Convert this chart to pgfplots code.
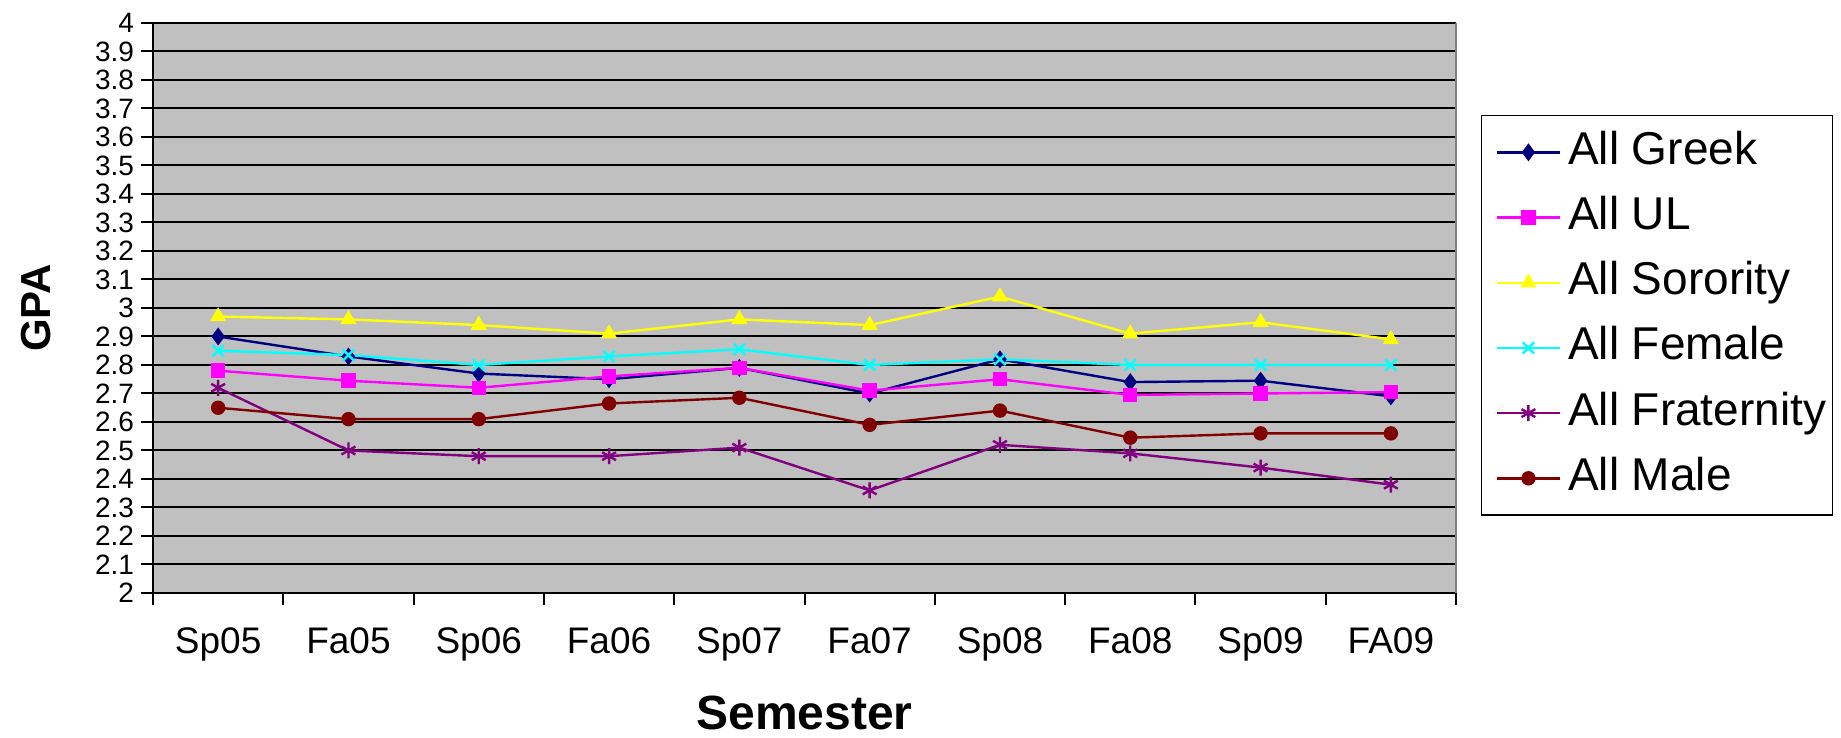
\documentclass[border=0pt]{standalone}
\usepackage{fontspec}
\setmainfont{Liberation Sans}
\usepackage{pgfplots}
\pgfplotsset{compat=1.18}

\definecolor{plotgray}{RGB}{192,192,192}
\definecolor{cgreek}{RGB}{0,0,128}
\definecolor{cul}{RGB}{255,0,255}
\definecolor{csor}{RGB}{255,255,0}
\definecolor{cfem}{RGB}{0,255,255}
\definecolor{cfrat}{RGB}{128,0,128}
\definecolor{cmale}{RGB}{128,0,0}

\begin{document}
\begin{tikzpicture}
\begin{axis}[
    name=ax,
    width=651.5pt, height=285pt, scale only axis,
    xmin=-0.5, xmax=9.5, ymin=2, ymax=4,
    axis background/.style={fill=plotgray},
    axis x line*=bottom, axis y line*=left,
    axis line style={black, line width=1pt, -},
    /pgf/number format/assume math mode=true,
    ytick={2,2.1,2.2,2.3,2.4,2.5,2.6,2.7,2.8,2.9,3,3.1,3.2,3.3,3.4,3.5,3.6,3.7,3.8,3.9,4},
    yticklabels={2,2.1,2.2,2.3,2.4,2.5,2.6,2.7,2.8,2.9,3,3.1,3.2,3.3,3.4,3.5,3.6,3.7,3.8,3.9,4},
    yticklabel style={font=\fontsize{14}{14}\selectfont},
    ymajorgrids,
    major grid style={black, line width=1pt},
    tick align=outside,
    major tick length=6pt,
    tick style={black, line width=1pt},
    xtick={-0.5,0.5,...,9.5}, xticklabels={},
    extra x ticks={0,1,2,3,4,5,6,7,8,9},
    extra x tick labels={Sp05,Fa05,Sp06,Fa06,Sp07,Fa07,Sp08,Fa08,Sp09,FA09},
    extra x tick style={major tick length=0pt,
        tick label style={font=\fontsize{18.5}{18.5}\selectfont, yshift=-14pt}},
    xlabel={Semester},
    xlabel style={font=\bfseries\fontsize{24}{26}\selectfont, inner sep=0pt,
        at={(axis description cs:0.5,0)}, anchor=center, yshift=-60pt},
    ylabel={GPA},
    ylabel style={font=\bfseries\fontsize{21}{24}\selectfont, inner sep=0pt,
        at={(axis description cs:-0.0898,0.5)}, anchor=center},
    legend style={at={(1.0192,0.8386)}, anchor=north west, draw=black,
        line width=0.7pt, font=\fontsize{23}{27}\selectfont,
        nodes={text height=17pt, text depth=5pt, inner ysep=5.3pt, inner xsep=2pt},
        column sep=1.5pt, inner xsep=1pt, inner ysep=2pt},
    legend cell align=left,
    legend image code/.code={\path (0pt,0pt);
        \draw[mark repeat=2,mark phase=2]
        plot coordinates {(6pt,0pt)(21.75pt,0pt)(37.5pt,0pt)};},
    after end axis/.code={\draw[gray, line width=0.6pt] (rel axis cs:1,0) -- (rel axis cs:1,1);},
]

\addplot[cgreek, line width=1.2pt, mark=diamond*, mark size=3.5pt,
    mark options={fill=cgreek}]
    coordinates {(0,2.90)(1,2.83)(2,2.77)(3,2.75)(4,2.79)(5,2.70)(6,2.82)(7,2.74)(8,2.745)(9,2.69)};
\addlegendentry{All Greek}

\addplot[cul, line width=1.2pt, mark=square*, mark size=3pt,
    mark options={fill=cul}]
    coordinates {(0,2.78)(1,2.745)(2,2.72)(3,2.76)(4,2.79)(5,2.71)(6,2.75)(7,2.695)(8,2.70)(9,2.705)};
\addlegendentry{All UL}

\addplot[csor, line width=1.2pt, mark=triangle*, mark size=3.5pt,
    mark options={fill=csor}]
    coordinates {(0,2.97)(1,2.96)(2,2.94)(3,2.91)(4,2.96)(5,2.94)(6,3.04)(7,2.91)(8,2.95)(9,2.89)};
\addlegendentry{All Sorority}

\addplot[cfem, line width=1.2pt, mark=x, mark size=4pt]
    coordinates {(0,2.85)(1,2.835)(2,2.80)(3,2.83)(4,2.855)(5,2.80)(6,2.82)(7,2.80)(8,2.80)(9,2.80)};
\addlegendentry{All Female}

\addplot[cfrat, line width=1.2pt, mark=asterisk, mark size=4pt]
    coordinates {(0,2.72)(1,2.50)(2,2.48)(3,2.48)(4,2.51)(5,2.36)(6,2.52)(7,2.49)(8,2.44)(9,2.38)};
\addlegendentry{All Fraternity}

\addplot[cmale, line width=1.2pt, mark=*, mark size=3pt,
    mark options={fill=cmale}]
    coordinates {(0,2.65)(1,2.61)(2,2.61)(3,2.665)(4,2.685)(5,2.59)(6,2.64)(7,2.545)(8,2.56)(9,2.56)};
\addlegendentry{All Male}

\end{axis}
\pgfresetboundingbox
\path[use as bounding box] ([xshift=-76.5pt,yshift=-72.5pt]ax.south west) rectangle ++(920.5pt,369pt);
\end{tikzpicture}
\end{document}
